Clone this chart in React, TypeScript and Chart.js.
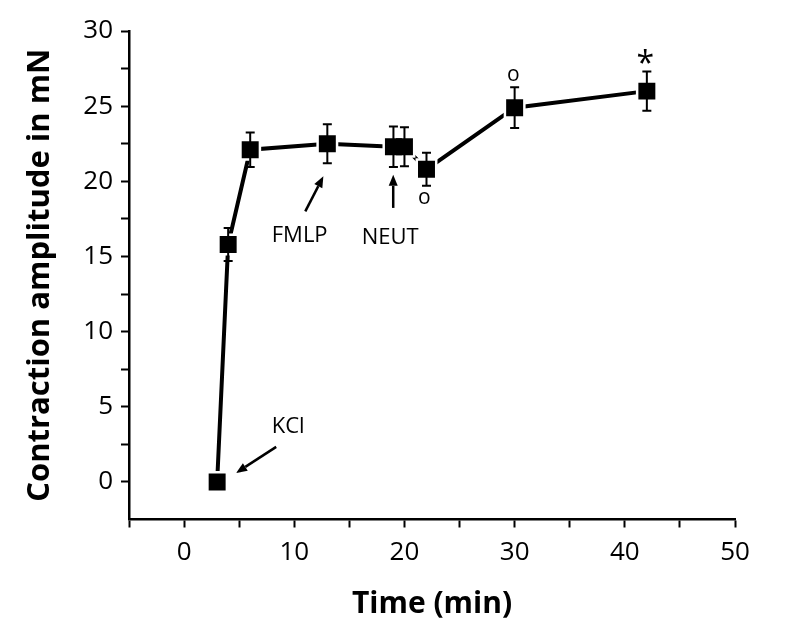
import React, { useEffect, useRef } from "react";
import { Chart, registerables } from "chart.js";

Chart.register(...registerables);

// ---- data ----
const timeMin = [3, 4, 6, 13, 19, 20, 22, 30, 42];
const amplitude = [0, 15.8, 22.1, 22.5, 22.3, 22.3, 20.8, 24.9, 26.0];
const sem = [0, 1.1, 1.15, 1.3, 1.35, 1.3, 1.1, 1.35, 1.3];

const yTickLabels = [0, 5, 10, 15, 20, 25, 30];
const xTickLabels = [0, 10, 20, 30, 40, 50];

// annotation labels (data coordinates)
const noteTexts = ["KCl", "FMLP", "NEUT"];
const noteX = [9.45, 10.49, 18.71];
const noteY = [3.66, 16.4, 16.23];
const arrowFromX = [8.36, 11.0, 18.98];
const arrowFromY = [2.33, 18.0, 18.23];
const arrowToX = [4.72, 12.64, 18.98];
const arrowToY = [0.6, 20.33, 20.43];

const markTexts = ["o", "o", "*"];
const markX = [21.8, 29.88, 41.87];
const markY = [18.9, 27.08, 28.2];

const FONT = "'Open Sans', 'DejaVu Sans', sans-serif";

const errorBarPlugin = {
  id: "errorBars",
  afterDatasetsDraw(chart: any) {
    const { ctx, scales } = chart;
    const xs = scales.x;
    const ys = scales.y;
    ctx.save();
    ctx.strokeStyle = "#000";
    ctx.lineWidth = 2;
    const cap = 4.5;
    for (let i = 0; i < timeMin.length; i++) {
      if (!sem[i]) continue;
      const px = xs.getPixelForValue(timeMin[i]);
      const top = ys.getPixelForValue(amplitude[i] + sem[i]);
      const bot = ys.getPixelForValue(amplitude[i] - sem[i]);
      ctx.beginPath();
      ctx.moveTo(px, top);
      ctx.lineTo(px, bot);
      ctx.moveTo(px - cap, top);
      ctx.lineTo(px + cap, top);
      ctx.moveTo(px - cap, bot);
      ctx.lineTo(px + cap, bot);
      ctx.stroke();
    }
    ctx.restore();
  },
};

const annotationPlugin = {
  id: "notes",
  afterDraw(chart: any) {
    const { ctx, scales } = chart;
    const xs = scales.x;
    const ys = scales.y;
    ctx.save();
    ctx.fillStyle = "#000";
    ctx.strokeStyle = "#000";
    ctx.textAlign = "center";
    ctx.textBaseline = "middle";
    ctx.font = `22px ${FONT}`;
    for (let i = 0; i < noteTexts.length; i++) {
      ctx.fillText(noteTexts[i], xs.getPixelForValue(noteX[i]), ys.getPixelForValue(noteY[i]));
    }
    // arrows
    ctx.lineWidth = 2.5;
    const headLen = 11;
    const headHalf = 4.5;
    for (let i = 0; i < arrowFromX.length; i++) {
      const x0 = xs.getPixelForValue(arrowFromX[i]);
      const y0 = ys.getPixelForValue(arrowFromY[i]);
      const x1 = xs.getPixelForValue(arrowToX[i]);
      const y1 = ys.getPixelForValue(arrowToY[i]);
      const ang = Math.atan2(y1 - y0, x1 - x0);
      const bx = x1 - headLen * Math.cos(ang);
      const by = y1 - headLen * Math.sin(ang);
      ctx.beginPath();
      ctx.moveTo(x0, y0);
      ctx.lineTo(bx, by);
      ctx.stroke();
      ctx.beginPath();
      ctx.moveTo(x1, y1);
      ctx.lineTo(bx + headHalf * Math.sin(ang), by - headHalf * Math.cos(ang));
      ctx.lineTo(bx - headHalf * Math.sin(ang), by + headHalf * Math.cos(ang));
      ctx.closePath();
      ctx.fill();
    }
    // significance marks
    for (let i = 0; i < markTexts.length; i++) {
      const star = markTexts[i] === "*";
      ctx.font = star ? `32px ${FONT}` : `21px ${FONT}`;
      const dy = star ? 7 : 0;
      ctx.fillText(markTexts[i], xs.getPixelForValue(markX[i]), ys.getPixelForValue(markY[i]) + dy);
    }
    ctx.restore();
  },
};

export default function App() {
  const canvasRef = useRef<HTMLCanvasElement | null>(null);

  useEffect(() => {
    if (!canvasRef.current) return;
    const points = timeMin.map((t, i) => ({ x: t, y: amplitude[i] }));
    const chart = new Chart(canvasRef.current, {
      type: "line",
      data: {
        datasets: [
          {
            label: "markers",
            data: points,
            showLine: false,
            pointStyle: "rect",
            pointRadius: 12,
            pointBackgroundColor: "#000",
            pointBorderWidth: 0,
            order: 0,
          },
          {
            label: "line",
            data: points,
            borderColor: "#000",
            borderWidth: 4,
            pointStyle: "rect",
            pointRadius: 15.5,
            pointBackgroundColor: "#fff",
            pointBorderWidth: 0,
            tension: 0,
            order: 1,
          },
        ],
      },
      options: {
        responsive: false,
        animation: false,
        events: [],
        layout: { padding: { left: 0, right: 62, top: 31, bottom: 0 } },
        plugins: {
          legend: { display: false },
          tooltip: { enabled: false },
        },
        scales: {
          x: {
            type: "linear",
            min: -5,
            max: 50,
            afterFit: (s: any) => {
              s.height = 116.5;
            },
            ticks: {
              stepSize: 5,
              autoSkip: false,
              maxRotation: 0,
              padding: 9,
              color: "#000",
              font: { family: FONT, size: 26 },
              callback: (v: any) => (xTickLabels.includes(Number(v)) ? String(v) : ""),
            },
            grid: {
              display: true,
              drawOnChartArea: false,
              drawTicks: true,
              tickLength: 8,
              tickColor: "#000",
              tickWidth: 2,
            },
            border: { display: true, color: "#000", width: 2.5 },
            title: {
              display: true,
              text: "Time (min)",
              color: "#000",
              font: { family: FONT, size: 30, weight: "bold" },
              padding: { top: 0, bottom: 14 },
            },
          },
          y: {
            type: "linear",
            min: -2.5,
            max: 30,
            afterFit: (s: any) => {
              s.width = 129;
            },
            ticks: {
              stepSize: 2.5,
              autoSkip: false,
              padding: 8,
              color: "#000",
              font: { family: FONT, size: 26 },
              callback: (v: any) => (yTickLabels.includes(Number(v)) ? String(v) : ""),
            },
            grid: {
              display: true,
              drawOnChartArea: false,
              drawTicks: true,
              tickLength: 8,
              tickWidth: 2,
              tickColor: (c: any) => (c.tick && c.tick.value === -2.5 ? "rgba(0,0,0,0)" : "#000"),
            },
            border: { display: true, color: "#000", width: 2.5 },
            title: {
              display: true,
              text: "Contraction amplitude in mN",
              color: "#000",
              font: { family: FONT, size: 31, weight: "bold" },
              padding: { top: 22, bottom: 0 },
            },
          },
        },
      },
      plugins: [errorBarPlugin, annotationPlugin],
    });
    return () => chart.destroy();
  }, []);

  return (
    <div style={{ position: "absolute", left: 0, top: 0, width: 797, height: 636, background: "#fff" }}>
      <canvas ref={canvasRef} width={797} height={636} style={{ display: "block" }} />
    </div>
  );
}
